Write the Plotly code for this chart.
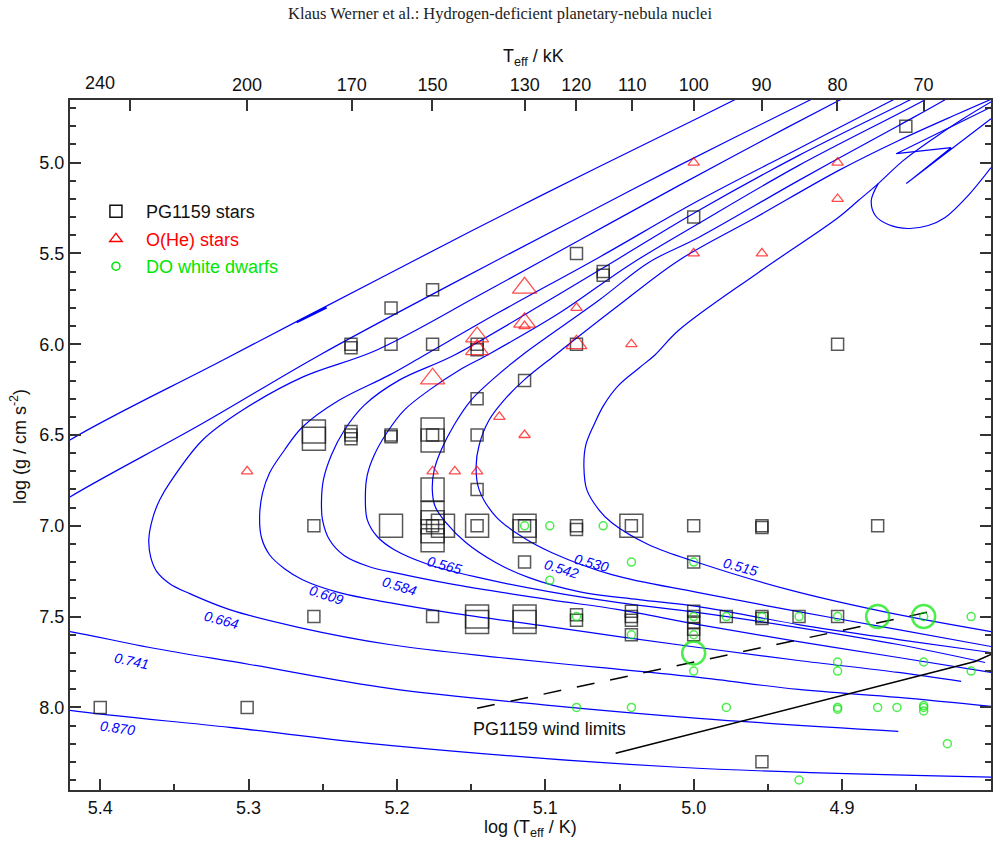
import numpy as np
import plotly.graph_objects as go

# ---------------- evolutionary tracks (log Teff, log g) ----------------
t870_logT = [4.947, 4.9967, 5.1043, 5.2052, 5.3175, 5.4204, 5.47, 5.52, 5.47, 5.4204, 5.3128, 5.2052, 5.0101, 4.7996]
t870_logg = [4.55, 4.753, 5.187, 5.610, 6.088, 6.527, 6.80, 7.40, 7.95, 8.0165, 8.110, 8.2088, 8.3297, 8.3846]
t870_blob_logT = [5.2677, 5.2475]
t870_blob_logg = [5.8791, 5.7967]

t741_logT = [4.896, 4.9226, 5.0101, 5.0774, 5.1648, 5.2523, 5.3330, 5.4204, 5.47, 5.50, 5.47, 5.4204, 5.3666, 5.2993, 5.2052, 5.0976, 4.9967, 4.8621]
t741_logg = [4.55, 4.659, 5.0165, 5.3022, 5.6758, 6.0604, 6.4451, 6.8407, 7.10, 7.35, 7.52, 7.5824, 7.6703, 7.7637, 7.8956, 7.989, 8.0604, 8.1319]

t664_logT = [4.876, 4.9025, 4.9563, 5.0101, 5.0774, 5.1446, 5.2139, 5.2637, 5.3040, 5.3310, 5.3532, 5.3599, 5.3646, 5.3673, 5.3659, 5.3619, 5.3532, 5.3397, 5.3128, 5.2657, 5.2052, 5.1312, 5.0639, 4.9967, 4.9294, 4.8621, 4.7996]
t664_logg = [4.55, 4.659, 4.8901, 5.1264, 5.4286, 5.7308, 6.0330, 6.1813, 6.3626, 6.5275, 6.7637, 6.8571, 6.9560, 7.0769, 7.1758, 7.2527, 7.3187, 7.3736, 7.4615, 7.5604, 7.6538, 7.7253, 7.7802, 7.8352, 7.9011, 7.9450, 7.9945]

t609_logT = [4.842, 4.8668, 4.9294, 4.9967, 5.0639, 5.1312, 5.1816, 5.2052, 5.2388, 5.2637, 5.2758, 5.2859, 5.2906, 5.2926, 5.2913, 5.2859, 5.2758, 5.2637, 5.2388, 5.2052, 5.1648, 5.0976, 5.0505, 4.9967, 4.9294, 4.8621, 4.8197]
t609_logg = [4.55, 4.659, 4.9231, 5.2088, 5.5220, 5.8242, 6.0604, 6.1703, 6.3077, 6.4561, 6.5824, 6.7088, 6.8187, 6.9505, 7.0659, 7.1593, 7.2363, 7.2967, 7.3681, 7.4231, 7.4780, 7.5549, 7.6099, 7.6703, 7.7418, 7.8077, 7.8571]

t584_logT = [4.830, 4.8554, 4.9294, 4.9967, 5.0505, 5.0976, 5.1615, 5.1985, 5.2220, 5.2354, 5.2442, 5.2496, 5.2509, 5.2502, 5.2455, 5.2354, 5.2186, 5.1985, 5.1648, 5.0976, 5.0505, 4.9967, 4.9294, 4.8621, 4.7996]
t584_logg = [4.55, 4.659, 4.9615, 5.2637, 5.5275, 5.7582, 6.0604, 6.1978, 6.3352, 6.4725, 6.6099, 6.7473, 6.8681, 6.9670, 7.0769, 7.1648, 7.2253, 7.2637, 7.3187, 7.4066, 7.4615, 7.5439, 7.6374, 7.7253, 7.8077]

t565_logT = [4.822, 4.8453, 4.9294, 4.9967, 5.0438, 5.0908, 5.1393, 5.1581, 5.1783, 5.1951, 5.2065, 5.2153, 5.2200, 5.2213, 5.2200, 5.2132, 5.2018, 5.1783, 5.1446, 5.0976, 5.0505, 4.9967, 4.9294, 4.8621, 4.8036]
t565_logg = [4.55, 4.659, 5.0165, 5.3352, 5.5659, 5.8297, 6.0604, 6.1429, 6.2527, 6.3626, 6.4835, 6.6099, 6.7198, 6.8297, 6.9670, 7.0604, 7.1319, 7.2143, 7.2857, 7.3626, 7.4231, 7.4780, 7.5604, 7.6538, 7.7527]

t542_logT = [4.810, 4.8318, 4.8621, 4.9294, 4.9967, 5.0303, 5.0639, 5.1157, 5.1345, 5.1500, 5.1615, 5.1702, 5.1749, 5.1762, 5.1742, 5.1668, 5.1534, 5.1332, 5.1110, 5.0774, 5.0370, 4.9967, 4.9294, 4.8621, 4.7996]
t542_logg = [4.55, 4.659, 4.7967, 5.0989, 5.4121, 5.5495, 5.7582, 6.0604, 6.1868, 6.3077, 6.4451, 6.5824, 6.6923, 6.8022, 6.8956, 6.9835, 7.0934, 7.2033, 7.2857, 7.3626, 7.4066, 7.4451, 7.5439, 7.6264, 7.6978]

t530_logT = [4.785, 4.8218, 4.8621, 4.9025, 4.9583, 5.0101, 5.0505, 5.0935, 5.1144, 5.1278, 5.1379, 5.1446, 5.1467, 5.1446, 5.1332, 5.1157, 5.0955, 5.0552, 4.9967, 4.9294, 4.8621, 4.7996]
t530_logg = [4.60, 4.7308, 4.8791, 5.0440, 5.3022, 5.5385, 5.7857, 6.0604, 6.1978, 6.3077, 6.4176, 6.5549, 6.6758, 6.8022, 6.9505, 7.0604, 7.1484, 7.2692, 7.3681, 7.4725, 7.5714, 7.6648]
t530_hook_logT = [4.7949, 4.8635, 4.8265, 4.8567, 4.7996]
t530_hook_logg = [4.6758, 4.9506, 4.9176, 5.1154, 4.7582]

t515_logT = [4.7915, 4.8184, 4.8386, 4.8588, 4.8756, 4.8890, 4.9025, 4.9563, 5.0101, 5.0263, 5.0370, 5.0505, 5.0606, 5.0673, 5.0727, 5.0740, 5.0720, 5.0639, 5.0552, 5.0303, 4.9967, 4.9361, 4.8689, 4.7996]
t515_logg = [4.626, 4.7582, 4.8681, 4.9890, 5.1154, 5.2088, 5.3022, 5.6044, 5.9231, 6.0604, 6.1319, 6.2253, 6.3352, 6.4451, 6.5549, 6.6758, 6.8022, 6.9121, 6.9835, 7.1044, 7.2033, 7.3516, 7.4780, 7.5824]
t515_loop_logT = [4.8756, 4.8803, 4.8776, 4.8689, 4.8554, 4.8419, 4.8305, 4.8150, 4.7996]
t515_loop_logg = [5.1154, 5.2088, 5.2912, 5.3407, 5.3626, 5.3462, 5.3022, 5.1813, 5.0275]

# track labels (mass in Msun) and where they are written
track_masses = ["0.515", "0.530", "0.542", "0.565", "0.584", "0.609", "0.664", "0.741", "0.870"]
label_logT = [4.9684, 5.0686, 5.0888, 5.1682, 5.1985, 5.2475, 5.3182, 5.3789, 5.3883]
label_logg = [7.2253, 7.2033, 7.2363, 7.2143, 7.3297, 7.3791, 7.5165, 7.7456, 8.1115]
label_angle = [15, 15, 17, 15, 17, 18, 15, 12, 8]

# ---------------- stars ----------------
pg_logT = [4.857, 5.000, 5.079, 5.061, 5.061, 5.176, 5.204, 5.231, 5.231, 5.204, 5.176, 5.146, 5.146,
           5.079, 4.903, 5.114, 5.146, 5.146, 5.256, 5.256, 5.231, 5.231, 5.231, 5.204, 5.204,
           5.176, 5.176, 5.176, 5.146, 5.176, 5.256, 5.204, 5.176, 5.176, 5.176, 5.176, 5.176, 5.169,
           5.146, 5.146, 5.114, 5.114, 5.114, 5.079, 5.079, 5.042, 5.042, 5.000, 4.954, 4.954, 4.876,
           5.114, 5.000, 5.256, 5.176, 5.146, 5.146, 5.114, 5.114, 5.079, 5.079, 5.042, 5.042, 5.042,
           5.042, 5.000, 5.000, 5.000, 5.000, 5.000, 4.978, 4.954, 4.954, 4.929, 4.903, 5.400, 5.301, 4.954]
pg_logg = [4.80, 5.30, 5.50, 5.60, 5.62, 5.70, 5.80, 6.00, 6.02, 6.00, 6.00, 6.00, 6.03,
           6.00, 6.00, 6.20, 6.30, 6.50, 6.48, 6.52, 6.48, 6.50, 6.52, 6.50, 6.51,
           6.47, 6.53, 6.50, 6.80, 6.80, 7.00, 7.00, 6.93, 6.98, 7.03, 7.08, 7.00, 7.00,
           7.00, 7.00, 7.00, 7.03, 7.00, 7.00, 7.02, 7.00, 7.00, 7.00, 7.00, 7.01, 7.00,
           7.20, 7.20, 7.50, 7.50, 7.50, 7.53, 7.50, 7.53, 7.49, 7.52, 7.47, 7.50, 7.52,
           7.60, 7.47, 7.50, 7.53, 7.57, 7.60, 7.50, 7.50, 7.51, 7.50, 7.50, 8.00, 8.00, 8.30]
pg_size = [12, 12, 12, 12, 12, 12, 12, 12, 12, 12, 12, 12, 12,
           12, 12, 12, 12, 12, 23, 23, 12, 12, 12, 12, 12,
           23, 23, 12, 12, 23, 12, 23, 23, 23, 23, 23, 12, 23,
           23, 12, 23, 23, 12, 12, 12, 23, 12, 12, 12, 12, 12,
           12, 12, 12, 12, 23, 23, 23, 23, 12, 12, 12, 12, 12,
           12, 12, 12, 12, 12, 12, 12, 12, 12, 12, 12, 12, 12, 12]

ohe_logT = [5.000, 4.903, 4.903, 5.000, 4.954, 5.079, 5.114, 5.114, 5.114, 5.146, 5.146, 5.079, 5.042,
            5.176, 5.131, 5.114, 5.301, 5.176, 5.161, 5.146]
ohe_logg = [5.00, 5.00, 5.20, 5.50, 5.50, 5.80, 5.69, 5.88, 5.90, 5.96, 6.03, 6.00, 6.00,
            6.19, 6.40, 6.50, 6.70, 6.70, 6.70, 6.70]
ohe_size = [10, 10, 10, 10, 10, 10, 21, 19, 10, 20, 20, 18, 10,
            21, 10, 10, 10, 10, 10, 10]

do_logT = [5.114, 5.097, 5.061, 5.042, 5.097, 5.000, 5.079, 5.042, 5.000, 5.000, 5.000, 5.000,
           4.978, 4.954, 4.929, 4.903, 4.876, 4.845, 4.845, 4.813, 4.903, 4.903, 4.845, 4.813,
           5.079, 5.042, 4.978, 4.903, 4.903, 4.876, 4.863, 4.845, 4.845, 4.845, 4.829, 4.929]
do_logg = [7.00, 7.00, 7.00, 7.20, 7.30, 7.20, 7.50, 7.60, 7.50, 7.60, 7.70, 7.80,
           7.50, 7.50, 7.50, 7.50, 7.50, 7.50, 7.50, 7.50, 7.75, 7.80, 7.75, 7.80,
           8.00, 8.00, 8.00, 8.00, 8.01, 8.00, 8.00, 7.99, 8.00, 8.02, 8.20, 8.40]
do_size = [8, 8, 8, 8, 8, 8, 8, 8, 8, 8, 23, 8,
           8, 8, 8, 8, 23, 23, 8, 8, 8, 8, 8, 8,
           8, 8, 8, 8, 8, 8, 8, 8, 8, 8, 8, 8]

# PG1159 wind limits
wind_dash_logT = [5.146, 4.8372]
wind_dash_logg = [8.005, 7.467]
wind_solid_logT = [5.0526, 4.8103, 4.7996]
wind_solid_logg = [8.253, 7.747, 7.709]

# top axis: Teff in kK
teff_kK = [240, 200, 170, 150, 130, 120, 110, 100, 90, 80, 70]

# ---------------- figure ----------------
FONT = "Liberation Sans, Arial, Helvetica, sans-serif"
BLUE = "#0000ff"
RED = "#ff0000"
GREEN = "#00e600"
AX = "#333333"

fig = go.Figure()

main_tracks = [(t515_logT, t515_logg), (t530_logT, t530_logg), (t542_logT, t542_logg),
               (t565_logT, t565_logg), (t584_logT, t584_logg), (t609_logT, t609_logg),
               (t664_logT, t664_logg), (t741_logT, t741_logg), (t870_logT, t870_logg),
               (t515_loop_logT, t515_loop_logg)]
for tx, ty in main_tracks:
    fig.add_trace(go.Scatter(x=tx, y=ty, mode="lines", showlegend=False, hoverinfo="skip",
                             line=dict(color=BLUE, width=1.2, shape="spline", smoothing=1.0)))
fig.add_trace(go.Scatter(x=t530_hook_logT, y=t530_hook_logg, mode="lines", showlegend=False,
                         hoverinfo="skip", line=dict(color=BLUE, width=1.2)))
fig.add_trace(go.Scatter(x=t870_blob_logT, y=t870_blob_logg, mode="lines", showlegend=False,
                         hoverinfo="skip", line=dict(color=BLUE, width=2.4)))

# wind limits
fig.add_trace(go.Scatter(x=wind_dash_logT, y=wind_dash_logg, mode="lines", showlegend=False,
                         hoverinfo="skip", line=dict(color="black", width=1.5, dash="18px,16px")))
fig.add_trace(go.Scatter(x=wind_solid_logT, y=wind_solid_logg, mode="lines", showlegend=False,
                         hoverinfo="skip", line=dict(color="black", width=1.5)))

# stars
fig.add_trace(go.Scatter(x=pg_logT, y=pg_logg, mode="markers", showlegend=False,
                         marker=dict(symbol="square-open", size=pg_size, color="#111111",
                                     line=dict(width=1.5))))
fig.add_trace(go.Scatter(x=ohe_logT, y=ohe_logg, mode="markers", showlegend=False,
                         marker=dict(symbol="triangle-up-open", size=ohe_size, color=RED,
                                     line=dict(width=1.3))))
do_lw = [2.5 if s > 15 else 1.5 for s in do_size]
fig.add_trace(go.Scatter(x=do_logT, y=do_logg, mode="markers", showlegend=False,
                         marker=dict(symbol="circle-open", size=do_size, color=GREEN,
                                     line=dict(width=do_lw))))

# legend-only entries
fig.add_trace(go.Scatter(x=[None], y=[None], mode="markers", name="PG1159 stars", legendgroup="a",
                         marker=dict(symbol="square-open", size=12, color="#111111", line=dict(width=1.5))))
fig.add_trace(go.Scatter(x=[None], y=[None], mode="markers", legendgroup="b",
                         name="<span style='color:#ff0000'>O(He) stars</span>",
                         marker=dict(symbol="triangle-up-open", size=11, color=RED, line=dict(width=1.3))))
fig.add_trace(go.Scatter(x=[None], y=[None], mode="markers", legendgroup="c",
                         name="<span style='color:#00e600'>DO white dwarfs</span>",
                         marker=dict(symbol="circle-open", size=8, color=GREEN, line=dict(width=1.5))))

# dummy trace on top axis
top_vals = [float(np.log10(t * 1000.0)) for t in teff_kK]
top_text = ["" if t == 240 else str(t) for t in teff_kK]
fig.add_trace(go.Scatter(x=[None], y=[None], xaxis="x2", showlegend=False, hoverinfo="skip"))

XR = [5.4204, 4.7996]
YR = [8.455, 4.655]
tickfont = dict(family=FONT, size=18, color="#111111")

fig.update_layout(
    width=1001, height=845,
    margin=dict(l=70, r=8, t=100, b=55),
    paper_bgcolor="white", plot_bgcolor="white",
    font=dict(family=FONT, size=18, color="#111111"),
    showlegend=True,
    legend=dict(x=0.0173, y=0.865, xanchor="left", yanchor="top", bgcolor="rgba(0,0,0,0)",
                borderwidth=0, itemwidth=50, tracegroupgap=1, traceorder="grouped",
                font=dict(family=FONT, size=18, color="#111111")),
    xaxis=dict(range=XR, tickmode="linear", tick0=4.8, dtick=0.1, tickformat=".1f",
               ticks="inside", ticklen=11, tickwidth=1.5, tickcolor=AX,
               showline=True, linecolor=AX, linewidth=2, mirror=False,
               showgrid=False, zeroline=False, tickfont=tickfont,
               minor=dict(tick0=4.8, dtick=0.05, ticks="inside", ticklen=6, tickwidth=1.5,
                          tickcolor=AX, showgrid=False)),
    xaxis2=dict(range=XR, overlaying="x", side="top", anchor="y", tickmode="array",
                tickvals=top_vals, ticktext=top_text,
                ticks="inside", ticklen=11, tickwidth=1.5, tickcolor=AX,
                showline=True, linecolor=AX, linewidth=2, showgrid=False, zeroline=False,
                tickfont=tickfont),
    yaxis=dict(range=YR, tickmode="linear", tick0=5.0, dtick=0.5, tickformat=".1f",
               ticks="inside", ticklen=11, tickwidth=1.5, tickcolor=AX,
               showline=True, linecolor=AX, linewidth=2, mirror="ticks",
               showgrid=False, zeroline=False, tickfont=tickfont,
               minor=dict(tick0=5.0, dtick=0.1, ticks="inside", ticklen=6, tickwidth=1.5,
                          tickcolor=AX, showgrid=False)),
)

ann = []
# page header
ann.append(dict(text="Klaus Werner et al.: Hydrogen-deficient planetary-nebula nuclei",
                xref="paper", yref="paper", x=(501 - 70) / 923, y=(790 - 14) / 690,
                xanchor="center", yanchor="middle", showarrow=False,
                font=dict(family="Liberation Serif, Times New Roman, serif", size=16.5, color="#222222")))
# top-axis label "240" (drawn left of its tick, as in the original)
ann.append(dict(text="240", xref="x", yref="paper", x=5.4, y=(790 - 83) / 690,
                xanchor="center", yanchor="middle", showarrow=False,
                font=dict(family=FONT, size=18, color="#111111")))
# axis titles
ann.append(dict(text="T<sub>eff</sub> / kK", xref="paper", yref="paper",
                x=(535 - 70) / 923, y=(790 - 58) / 690, xanchor="center", yanchor="middle",
                showarrow=False, font=dict(family=FONT, size=18, color="#111111")))
ann.append(dict(text="log (T<sub>eff</sub> / K)", xref="paper", yref="paper",
                x=(531 - 70) / 923, y=(790 - 828) / 690, xanchor="center", yanchor="middle",
                showarrow=False, font=dict(family=FONT, size=18, color="#111111")))
ann.append(dict(text="log (g / cm s<sup>-2</sup>)", xref="paper", yref="paper",
                x=(18 - 70) / 923, y=(790 - 447) / 690, xanchor="center", yanchor="middle",
                textangle=-90, showarrow=False, font=dict(family=FONT, size=18, color="#111111")))
# wind limits label
ann.append(dict(text="PG1159 wind limits", x=5.0969, y=8.1209, xref="x", yref="y",
                xanchor="center", yanchor="middle", showarrow=False,
                font=dict(family=FONT, size=18, color="#111111")))
# track mass labels
for m, lx, ly, a in zip(track_masses, label_logT, label_logg, label_angle):
    ann.append(dict(text=m, x=lx, y=ly, xref="x", yref="y", xanchor="center", yanchor="middle",
                    textangle=a, showarrow=False,
                    font=dict(family=FONT, size=14, color=BLUE, style="italic")))
fig.update_layout(annotations=ann)

fig.write_html("out.html")
